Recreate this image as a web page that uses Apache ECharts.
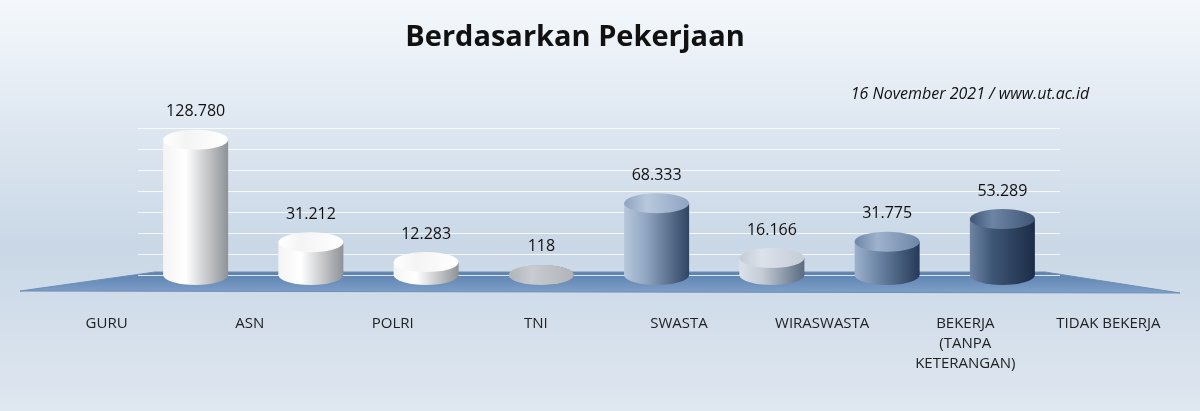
<!DOCTYPE html>
<html><head><meta charset="utf-8">
<script src="https://cdn.jsdelivr.net/npm/echarts@6/dist/echarts.min.js"></script>
<style>html,body{margin:0;padding:0}#chart{width:1200px;height:411px}</style>
</head><body><div id="chart"></div>
<script>
var categories = ['GURU', 'ASN', 'POLRI', 'TNI', 'SWASTA', 'WIRASWASTA', 'BEKERJA\n(TANPA\nKETERANGAN)', 'TIDAK BEKERJA'];
var values = [128780, 31212, 12283, 118, 68333, 16166, 31775, 53289];
var barColors = [
    ['#f4f4f4', '#ffffff', '#8e9296'], ['#f4f4f4', '#ffffff', '#8e9296'],
    ['#f4f4f4', '#ffffff', '#8e9296'], ['#c8ccd0', '#b0b4b8', '#6a6e72'],
    ['#b8c8dc', '#8ea4c0', '#2f4462'], ['#dce2ea', '#c4ccd6', '#5a6a80'],
    ['#9eb2cc', '#6e86a6', '#253a58'], ['#6e84a4', '#3e5676', '#1b2c46']
];

var myChart = echarts.init(document.getElementById('chart'));

function grad(c) {
    return new echarts.graphic.LinearGradient(0, 0, 1, 0, [
        {offset: 0, color: c[0]}, {offset: 0.35, color: c[1]}, {offset: 1, color: c[2]}
    ]);
}
function fmt(v) {
    return String(v).replace(/\B(?=(\d{3})+(?!\d))/g, '.');
}

var bodyData = values.map(function (v, i) { return {value: v, itemStyle: {color: grad(barColors[i])}}; });
var topData = values.map(function (v, i) {
    return {value: v, itemStyle: {color: grad([barColors[i][1], barColors[i][0], barColors[i][1]])}};
});
var bottomData = values.map(function (v, i) { return {value: 1, itemStyle: {color: grad(barColors[i])}}; });

var option = {
    backgroundColor: new echarts.graphic.LinearGradient(0, 0, 0, 1, [
        {offset: 0, color: '#f4f8fc'}, {offset: 0.6, color: '#c9d7e6'}, {offset: 1, color: '#dfe7f0'}
    ]),
    title: [
        {text: 'Berdasarkan Pekerjaan', left: 570, top: 18, textAlign: 'center',
            textStyle: {fontFamily: 'Open Sans', fontSize: 29, fontWeight: 'bold', color: '#111'}},
        {text: '16 November 2021 / www.ut.ac.id', left: 965, top: 81, textAlign: 'center',
            textStyle: {fontFamily: 'Open Sans', fontSize: 16, fontStyle: 'italic', fontWeight: 'normal', color: '#111'}}
    ],
    graphic: [{
        type: 'polygon', z: 0,
        shape: {points: [[20, 291], [155, 272], [1045, 272], [1180, 293]]},
        style: {fill: new echarts.graphic.LinearGradient(0, 0, 0, 1, [
            {offset: 0, color: '#5a80b0'}, {offset: 1, color: '#7fa0c8'}]), stroke: '#6f8fb8'}
    }],
    grid: [
        {left: 138, width: 922, top: 128, bottom: 136},
        {left: 35, right: 20, top: 100, bottom: 119}
    ],
    xAxis: [
        {type: 'category', gridIndex: 0, data: categories, axisLine: {show: false},
            axisTick: {show: false}, axisLabel: {show: false}},
        {type: 'category', gridIndex: 1, data: categories, axisLine: {show: false},
            axisTick: {show: false},
            axisLabel: {margin: 22, fontFamily: 'Open Sans', fontSize: 15, color: '#222', lineHeight: 20, interval: 0}}
    ],
    yAxis: [
        {type: 'value', gridIndex: 0, min: 0, max: 140000, interval: 20000, axisLabel: {show: false},
            splitLine: {lineStyle: {color: 'rgba(255,255,255,0.8)'}}},
        {type: 'value', gridIndex: 1, show: false}
    ],
    series: [
        {type: 'pictorialBar', xAxisIndex: 0, yAxisIndex: 0, symbol: 'circle', symbolSize: [65, 20],
            symbolOffset: [0, '50%'], data: bottomData, z: 3},
        {type: 'bar', xAxisIndex: 0, yAxisIndex: 0, barWidth: 65, data: bodyData, z: 4},
        {type: 'pictorialBar', xAxisIndex: 0, yAxisIndex: 0, symbol: 'circle', symbolSize: [65, 20],
            symbolPosition: 'end', symbolOffset: [0, '-50%'], data: topData, z: 5,
            label: {show: true, position: 'top', distance: 10, fontFamily: 'Open Sans', fontSize: 16, color: '#111',
                formatter: function (p) { return fmt(p.value); }}}
    ]
};
myChart.setOption(option);
</script></body></html>
